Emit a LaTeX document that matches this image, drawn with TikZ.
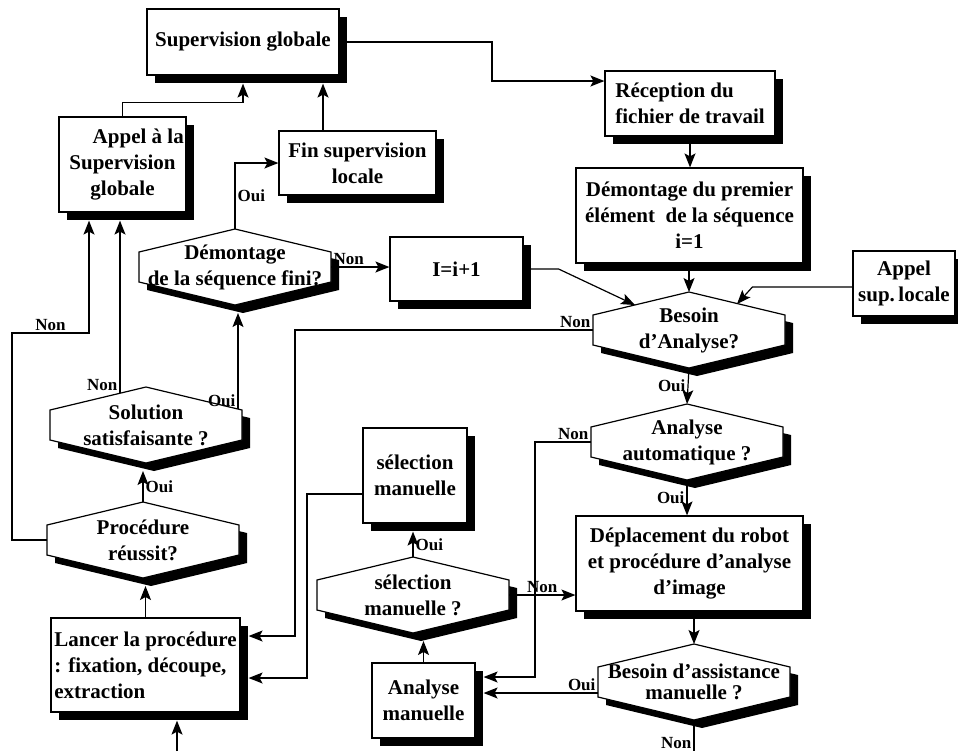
\documentclass[tikz,border=0pt]{standalone}
\usepackage{fontspec}
\setmainfont{Liberation Serif}
\usepackage{tikz}
\usetikzlibrary{arrows.meta,shadows}

% losange hexagonal avec ombre
\newcommand{\decision}[3]{%
  \begin{scope}[shift={(#2)}]
    \fill (-88,-7) -- (8,-30) -- (104,-7) -- (104,23) -- (8,46) -- (-88,23) -- cycle;
    \draw[fill=white] (-96,-15) -- (0,-38) -- (96,-15) -- (96,15) -- (0,38) -- (-96,15) -- cycle;
    \node[dec] (#1) at (0,0) {#3};
    \coordinate (#1-n) at (0,-38);
    \coordinate (#1-s) at (0,38);
    \coordinate (#1-sh) at (8,46);
    \coordinate (#1-w) at (-96,0);
    \coordinate (#1-e) at (96,0);
  \end{scope}}

\begin{document}
\begin{tikzpicture}[x=0.5pt,y=-0.5pt,semithick]
\tikzstyle{boite}=[draw,fill=white,align=center,inner sep=1pt,
  font=\fontsize{10.5}{13}\selectfont\bfseries,
  drop shadow={shadow xshift=4pt,shadow yshift=-4pt,fill=black,opacity=1}]
\tikzstyle{dec}=[align=center,inner sep=0pt,font=\fontsize{10.5}{13}\selectfont\bfseries]
\tikzstyle{lbl}=[inner sep=1pt,font=\fontsize{8.5}{10}\selectfont\bfseries]
\tikzstyle{fl}=[-{Stealth[length=7pt,width=5.5pt,inset=1.5pt]}]
\useasboundingbox (0,0) rectangle (958,751);
%boites
\node[boite,minimum width=96pt,minimum height=33pt] (sup) at (243,42) {Supervision globale};
\node[boite,minimum width=85pt,minimum height=32.5pt,align=left] (recep) at (690,103.5) {Réception du\\ fichier de travail};
\node[boite,minimum width=113.5pt,minimum height=47.5pt] (prem) at (689.5,215.5) {Démontage du premier\\élément~ de la séquence\\i=1};
\node[boite,minimum width=51pt,minimum height=32.5pt] (locale) at (904,283.5) {Appel\\sup.\,locale};
\node[boite,minimum width=78.5pt,minimum height=32pt] (fin) at (357.5,163) {Fin supervision\\locale};
\node[boite,minimum width=63.5pt,minimum height=47.5pt] (appel) at (122.5,164.5) {\hspace*{1.5em}Appel à la\\Supervision\\globale};
\node[boite,minimum width=66.5pt,minimum height=32pt] (inc) at (456.5,269) {I=i+1};
\node[boite,minimum width=52pt,minimum height=47.5pt] (selbox) at (415,475.5) {sélection\\manuelle};
\node[boite,minimum width=94.5pt,minimum height=47pt,align=left] (lancer) at (145.5,665) {Lancer la procédure\\: fixation, découpe,\\extraction};
\node[boite,minimum width=113.5pt,minimum height=47.5pt] (depl) at (689.5,563.5) {Déplacement du robot\\et procédure d’analyse\\d’image};
\node[boite,minimum width=51.5pt,minimum height=37.5pt] (am) at (423.5,700.5) {Analyse\\manuelle};
%tests
\decision{fini}{235,267}{Démontage\\de la séquence fini?}
\decision{sol}{146,425}{Solution\\satisfaisante ?}
\decision{proc}{143,540}{Procédure\\réussit?}
\decision{besoin}{689,330}{Besoin\\d’Analyse?}
\decision{autom}{687,442}{Analyse\\automatique ?}
\decision{selq}{413,595}{sélection\\manuelle ?}
\decision{assist}{694,682}{\raisebox{-5pt}{\shortstack{Besoin d’assistance\\manuelle ?}}}
%points de passage
\coordinate (b0) at (492,81);
\coordinate (b1) at (295,636);
\coordinate (b2) at (307,678);
\coordinate (b3) at (535,677);
\coordinate (b4) at (12,333);
\coordinate (entree) at (177,751);
\coordinate (sortie) at (694,751);
\coordinate (sup-sh) at ([yshift=-4pt]sup.south);
\coordinate (fin-t) at ([xshift=-17.25pt]fin.north);
\coordinate (appel-g) at ([xshift=-16.75pt,yshift=-4pt]appel.south);
\coordinate (appel-d) at ([xshift=-1.25pt,yshift=-4pt]appel.south);
\coordinate (lancer-sh) at ([xshift=4pt]lancer.east);
\coordinate (lancer-bas) at ([yshift=-4pt]lancer.south);
\coordinate (am-sh) at ([xshift=4pt]am.east);
\coordinate (selbox-sh) at ([yshift=-4pt]selbox.south);
\coordinate (sol-nw) at ([shift={(-26,-32)}]sol.center);
\coordinate (sol-ne) at ([shift={(92,-16)}]sol.center);
\coordinate (aw) at ([yshift=-5.5pt]assist-w);
%connexions
\draw[fl] (sup.east) -| (b0) -- (b0 -| recep.west);
\draw[fl] (recep.south) -- (recep.south |- prem.north);
\draw[fl] (prem.south -| besoin-n) -- (besoin-n);
\draw[fl] (inc.east) -- ++(35,0) -- ([shift={(-54,-25)}]besoin.center);
\draw[fl] ([yshift=-1.75pt]locale.west) -- ++(-100,0) -- ([shift={(48,-26)}]besoin.center);
\draw[fl] (besoin-w) node[lbl,above left] {Non} -| (b1) -- (b1 -| lancer-sh);
\draw[fl] (besoin-s) -- node[lbl,left] {Oui} (autom-n);
\draw[fl] (autom-w) node[lbl,above left] {Non} -| (b3) -- (b3 -| am-sh);
\draw[fl] (autom-s) -- node[lbl,left] {Oui} (autom-s |- depl.north);
\draw[fl] (assist-n |- depl.south) -- (assist-n);
\draw[fl] (aw) node[lbl,above left] {Oui} -- (aw -| am-sh);
\draw (assist-s) -- node[lbl,left,pos=0.75] {Non} (sortie);
\draw[fl] (am.north) -- (am.north |- selq-sh);
\draw[fl] (selq-n) -- node[lbl,right] {Oui} (selq-n |- selbox-sh);
\draw[fl] (selq-e) -- node[lbl,above] {Non} (selq-e -| depl.west);
\draw[fl] ([yshift=-9.25pt]selbox.west) -| (b2) -- (b2 -| lancer-sh);
\draw[fl] (lancer.north) -- (lancer.north |- proc-sh);
\draw[fl] (entree) -- (entree |- lancer-bas);
\draw[fl] (proc-n) -- node[lbl,right] {Oui} (proc-n |- sol-sh);
\draw[fl] (proc-w) -| (b4) -- node[lbl,above] {Non} (b4 -| appel-g) -- (appel-g);
\draw[fl] (sol-nw) node[lbl,above left] {Non} -- (sol-nw |- appel-d);
\draw[fl] (sol-ne) node[lbl,above left] {Oui} -- (sol-ne |- fini-sh);
\draw[fl] (fini-n) |- node[lbl,right,pos=0.25] {Oui} (fin.west);
\draw[fl] (fini-e) node[lbl,above right] {Non} -- (fini-e -| inc.west);
\draw[fl] (fin-t) -- (fin-t |- sup-sh);
\draw[fl] (appel.north) -- ++(0,-14) -| (sup-sh);
\end{tikzpicture}
\end{document}
